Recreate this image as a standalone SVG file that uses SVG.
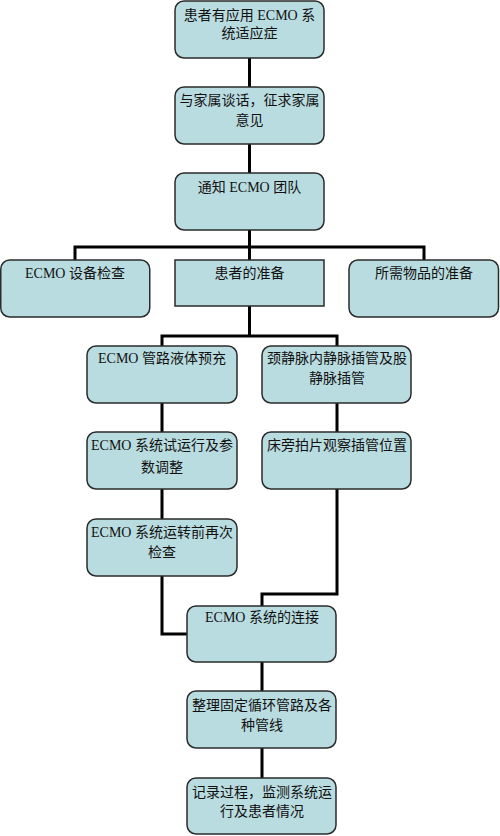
<svg xmlns="http://www.w3.org/2000/svg" width="500" height="836" viewBox="0 0 500 836">
<style>
.box{fill:#B9DCE0;stroke:#2b2b2b;stroke-width:1.5}
.t{font-family:"Liberation Serif","Noto Sans CJK SC",serif;font-size:14px;fill:#111;text-anchor:middle}
.c{fill:none;stroke:#000;stroke-width:3;stroke-linejoin:miter;stroke-linecap:square}
</style>
<rect width="500" height="836" fill="#fff"/>
<g id="connectors">
<path class="c" d="M249.5 58V87M249.5 144V173M249.5 230V260"/>
<path class="c" d="M75 260V247H424V260"/>
<path class="c" d="M249.5 306V336M162 346V336H337V346"/>
<path class="c" d="M162 403V432M337 403V432M162 489V519"/>
<path class="c" d="M162 576V634H187"/>
<path class="c" d="M337 489V594H262V606"/>
<path class="c" d="M262 662V691M262 748V778"/>
</g>
<g id="n1"><rect class="box" x="175" y="1" width="149" height="57" rx="9"/><text class="t" x="249.5" y="20">患者有应用 ECMO 系</text><text class="t" x="249.5" y="38">统适应症</text></g>
<g id="n2"><rect class="box" x="175" y="87" width="149" height="57" rx="9"/><text class="t" x="249.5" y="105">与家属谈话，征求家属</text><text class="t" x="249.5" y="125">意见</text></g>
<g id="n3"><rect class="box" x="175" y="173" width="149" height="57" rx="9"/><text class="t" x="249.5" y="192">通知 ECMO 团队</text></g>
<g id="n4"><rect class="box" x="0.75" y="260" width="149" height="57" rx="9"/><text class="t" x="75" y="278">ECMO 设备检查</text></g>
<g id="n5"><rect class="box" x="175" y="260" width="149" height="46"/><text class="t" x="249.5" y="278">患者的准备</text></g>
<g id="n6"><rect class="box" x="349" y="260" width="149.5" height="57" rx="9"/><text class="t" x="424" y="278">所需物品的准备</text></g>
<g id="n7"><rect class="box" x="87" y="346" width="150" height="57" rx="9"/><text class="t" x="162" y="363">ECMO 管路液体预充</text></g>
<g id="n8"><rect class="box" x="262" y="346" width="149" height="57" rx="9"/><text class="t" x="337" y="363">颈静脉内静脉插管及股</text><text class="t" x="337" y="383">静脉插管</text></g>
<g id="n9"><rect class="box" x="87" y="432" width="150" height="57" rx="9"/><text class="t" x="162" y="450">ECMO 系统试运行及参</text><text class="t" x="162" y="472">数调整</text></g>
<g id="n10"><rect class="box" x="262" y="432" width="149" height="57" rx="9"/><text class="t" x="337" y="450">床旁拍片观察插管位置</text></g>
<g id="n11"><rect class="box" x="87" y="519" width="150" height="57" rx="9"/><text class="t" x="162" y="537">ECMO 系统运转前再次</text><text class="t" x="162" y="557">检查</text></g>
<g id="n12"><rect class="box" x="187" y="606" width="149" height="56" rx="9"/><text class="t" x="262" y="622">ECMO 系统的连接</text></g>
<g id="n13"><rect class="box" x="187" y="691" width="149" height="57" rx="9"/><text class="t" x="262" y="710">整理固定循环管路及各</text><text class="t" x="262" y="730">种管线</text></g>
<g id="n14"><rect class="box" x="187" y="778" width="149" height="56" rx="9"/><text class="t" x="262" y="797">记录过程，监测系统运</text><text class="t" x="262" y="816">行及患者情况</text></g>
</svg>
